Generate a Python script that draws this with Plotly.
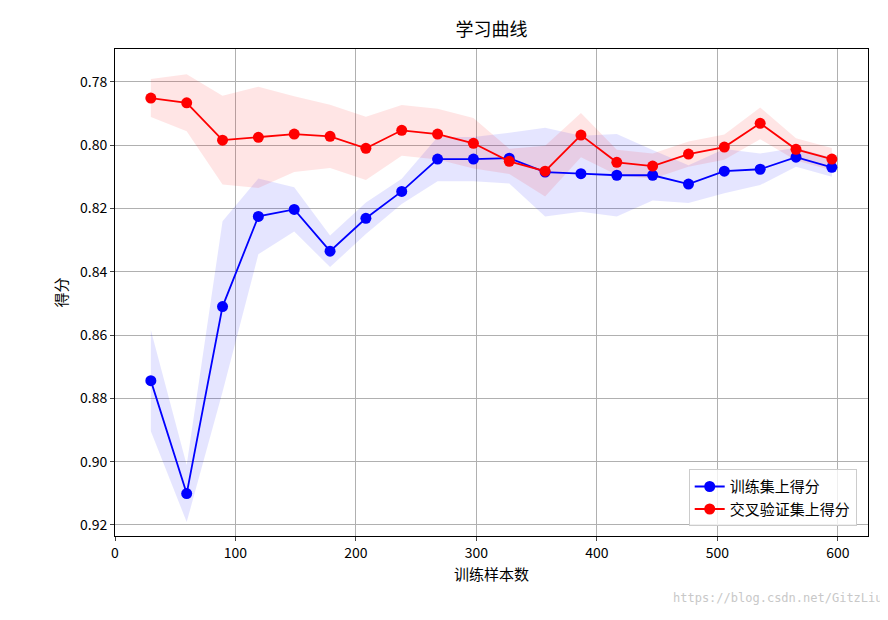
import numpy as np
import plotly.graph_objects as go

train_sizes = [29.75 * (i + 1) for i in range(20)]
train_mean = [0.8744, 0.9101, 0.8510, 0.8225, 0.8203, 0.8335, 0.8231, 0.8146, 0.8044, 0.8044,
              0.8041, 0.8085, 0.8090, 0.8095, 0.8095, 0.8123, 0.8082, 0.8076, 0.8038, 0.8070]
train_std = [0.016, 0.009, 0.027, 0.012, 0.007, 0.005, 0.005, 0.004, 0.007, 0.007,
             0.008, 0.014, 0.012, 0.013, 0.008, 0.006, 0.007, 0.005, 0.003, 0.003]
test_mean = [0.7851, 0.7866, 0.7984, 0.7975, 0.7965, 0.7972, 0.8010, 0.7953, 0.7965, 0.7994,
             0.8051, 0.8082, 0.7968, 0.8054, 0.8066, 0.8028, 0.8006, 0.7931, 0.8013, 0.8044]
test_std = [0.006, 0.009, 0.014, 0.016, 0.012, 0.010, 0.010, 0.008, 0.008, 0.008,
            0.004, 0.008, 0.007, 0.004, 0.004, 0.004, 0.004, 0.005, 0.0035, 0.0035]

FONT = "Noto Sans CJK SC"
fig = go.Figure()

def band(mean, std, color):
    m, s = np.array(mean), np.array(std)
    fig.add_trace(go.Scatter(x=train_sizes, y=m + s, mode="lines", line=dict(width=0),
                             showlegend=False, hoverinfo="skip"))
    fig.add_trace(go.Scatter(x=train_sizes, y=m - s, mode="lines", line=dict(width=0),
                             fill="tonexty", fillcolor=color, showlegend=False, hoverinfo="skip"))

band(train_mean, train_std, "rgba(0,0,255,0.1)")
band(test_mean, test_std, "rgba(255,0,0,0.1)")

fig.add_trace(go.Scatter(x=train_sizes, y=train_mean, mode="lines+markers", name="训练集上得分",
                         line=dict(color="blue", width=1.8), marker=dict(size=11, color="blue")))
fig.add_trace(go.Scatter(x=train_sizes, y=test_mean, mode="lines+markers", name="交叉验证集上得分",
                         line=dict(color="red", width=1.8), marker=dict(size=11, color="red")))

axis = dict(showline=True, linecolor="black", mirror=True, ticks="outside", ticklen=4,
            showgrid=True, gridcolor="#b0b0b0", zeroline=False, automargin=False,
            tickfont=dict(size=14, color="black"))
fig.update_xaxes(range=[0, 625], dtick=100, title=dict(text="训练样本数", font=dict(size=15), standoff=8), **axis)
fig.update_yaxes(range=[0.9235, 0.7696], dtick=0.02, tickformat=".2f",
                 title=dict(text="得分", font=dict(size=15), standoff=8), **axis)
fig.update_layout(
    width=888, height=620, plot_bgcolor="white", paper_bgcolor="white",
    font=dict(family=FONT, color="black"),
    title=dict(text="学习曲线", x=0.5, xref="paper", y=0.975, xanchor="center", font=dict(size=18)),
    margin=dict(l=107, r=28, t=41, b=92, autoexpand=False),
    legend=dict(x=0.985, y=0.02, xanchor="right", yanchor="bottom", bordercolor="#cccccc",
                borderwidth=1, bgcolor="rgba(255,255,255,0.8)", font=dict(size=15),
                traceorder="normal"),
)
fig.add_annotation(text="https://blog.csdn.net/GitzLiu", xref="paper", yref="paper",
                   x=1.022, y=-0.145, xanchor="right", showarrow=False,
                   font=dict(family="DejaVu Sans Mono", size=12, color="#c8c8c8"))
fig.write_html("out.html")
